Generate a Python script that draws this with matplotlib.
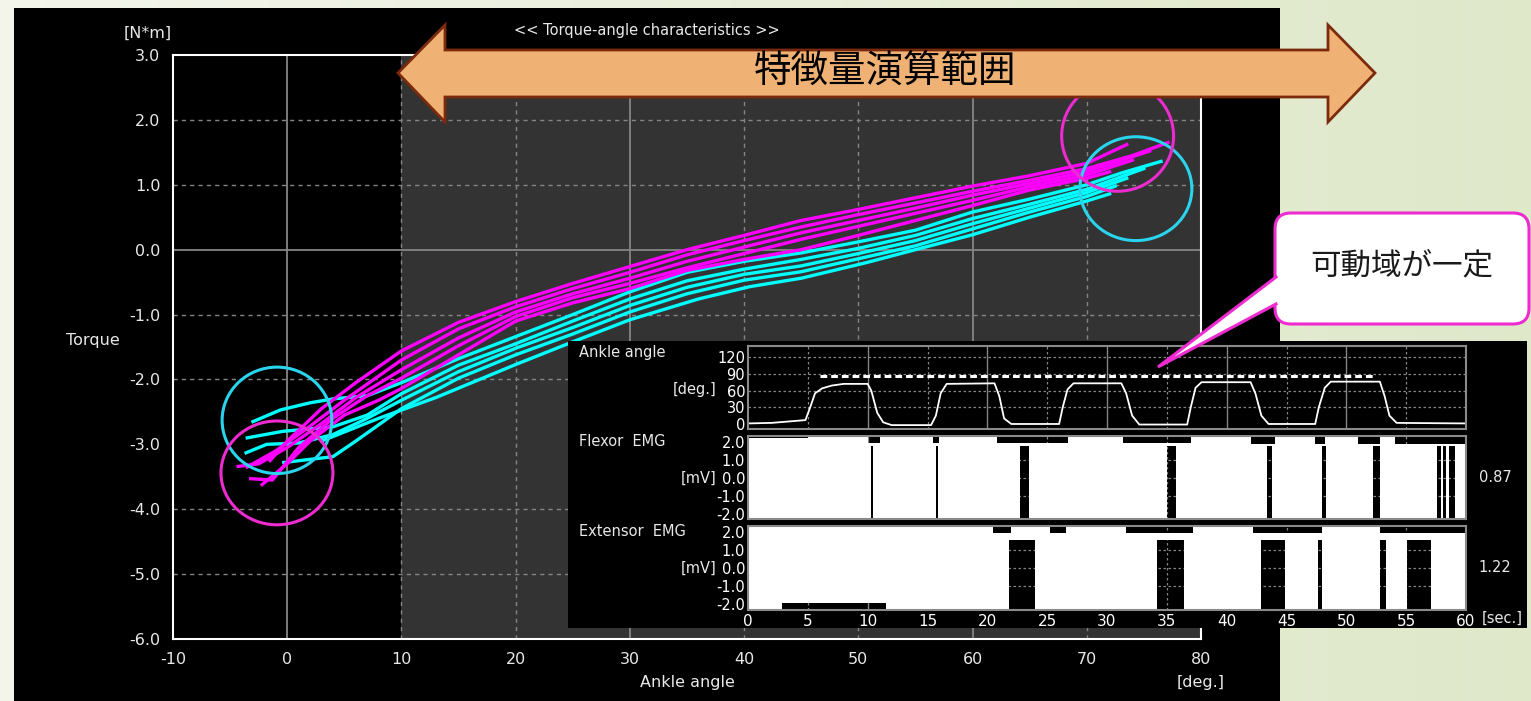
import matplotlib.pyplot as plt
import numpy as np
from matplotlib.patches import Ellipse, Polygon, FancyBboxPatch

W, H = 1531, 701
plt.rcParams['font.family'] = ['DejaVu Sans']
plt.rcParams['axes.unicode_minus'] = False
CJK = ['Noto Sans CJK JP', 'DejaVu Sans']

# torque-angle trials: (ankle angle [deg], torque [N*m])
flexion_trials = [
    [(-1.5, -3.25), (0, -2.95), (3, -2.45), (6, -2.05), (10, -1.56), (15, -1.12), (20, -0.80), (25, -0.52),
     (30, -0.26), (35, 0.0), (40, 0.22), (45, 0.45), (50, 0.62), (55, 0.80), (60, 0.98), (65, 1.14),
     (70, 1.33), (73.5, 1.62)],
    [(-3.5, -3.35), (-1, -3.1), (2, -2.72), (5, -2.32), (10, -1.70), (15, -1.22), (20, -0.88), (25, -0.60),
     (30, -0.35), (35, -0.08), (40, 0.14), (45, 0.35), (50, 0.54), (55, 0.72), (60, 0.90), (65, 1.07),
     (70, 1.25), (74, 1.45), (77.1, 1.65)],
    [(-4.3, -3.34), (-2.5, -3.3), (0, -3.05), (3, -2.68), (6, -2.28), (10, -1.85), (15, -1.36), (20, -0.96),
     (25, -0.68), (30, -0.44), (35, -0.18), (40, 0.04), (45, 0.26), (50, 0.45), (55, 0.64), (60, 0.84),
     (65, 1.02), (70, 1.20), (75.5, 1.52)],
    [(-3.2, -3.53), (-1.3, -3.55), (1, -3.05), (4, -2.6), (7, -2.25), (10, -1.98), (15, -1.48), (20, -1.03),
     (25, -0.74), (30, -0.52), (35, -0.28), (40, -0.06), (45, 0.16), (50, 0.36), (55, 0.56), (60, 0.76),
     (65, 0.97), (70, 1.15), (74, 1.38)],
    [(-2.2, -3.62), (0, -3.3), (2, -2.95), (5, -2.55), (8, -2.32), (10, -2.14), (15, -1.62), (20, -1.10),
     (25, -0.82), (30, -0.60), (35, -0.32), (40, -0.15), (45, 0.0), (50, 0.22), (55, 0.45), (60, 0.68),
     (65, 0.92), (70, 1.10), (72, 1.20)],
]
extension_trials = [
    [(-3.0, -2.65), (-0.6, -2.47), (2, -2.36), (4, -2.30), (7, -2.25), (10, -2.05), (15, -1.68), (20, -1.34),
     (25, -1.0), (30, -0.65), (35, -0.35), (40, -0.18), (45, -0.05), (50, 0.12), (55, 0.30), (60, 0.58),
     (65, 0.78), (70, 1.0), (73, 1.18), (76.5, 1.36)],
    [(-3.5, -2.90), (-0.4, -2.80), (4, -2.73), (7, -2.55), (10, -2.22), (15, -1.78), (20, -1.45), (25, -1.10),
     (30, -0.76), (35, -0.48), (40, -0.30), (45, -0.15), (50, 0.02), (55, 0.22), (60, 0.48), (65, 0.70),
     (70, 0.93), (75, 1.25)],
    [(-3.6, -3.13), (-1.8, -3.00), (1, -2.98), (4, -2.85), (7, -2.6), (10, -2.32), (15, -1.88), (20, -1.52),
     (25, -1.2), (30, -0.86), (35, -0.58), (40, -0.38), (45, -0.25), (50, -0.06), (55, 0.14), (60, 0.40),
     (65, 0.64), (70, 0.88), (73.5, 1.10)],
    [(-0.3, -3.28), (4, -3.19), (6, -2.95), (8, -2.7), (10, -2.45), (15, -1.98), (20, -1.62), (25, -1.30),
     (30, -0.96), (35, -0.68), (40, -0.47), (45, -0.34), (50, -0.14), (55, 0.06), (60, 0.32), (65, 0.58),
     (70, 0.82), (72.5, 0.98)],
    [(3, -2.95), (8, -2.6), (13, -2.28), (20, -1.77), (25, -1.42), (30, -1.08), (36, -0.76), (40.5, -0.57),
     (45, -0.44), (50.7, -0.2), (55, 0.0), (60, 0.23), (65, 0.5), (70, 0.75), (72, 0.86)],
]

# end-range markers: (centre angle, centre torque, half width, half height)
flexion_marks = [(-0.9, -3.44, 4.9, 0.80), (72.7, 1.75, 4.9, 0.85)]
extension_marks = [(-0.9, -2.63, 4.8, 0.82), (74.3, 0.94, 4.9, 0.80)]

feature_range = (10, 80)

# ankle angle over time
angle_t = [0, 2, 4.8, 5.2, 5.6, 6.2, 7, 8, 10, 10.3, 10.8, 11.3, 12, 15.3, 15.7, 16.1, 16.6, 20.6, 21.0,
           21.4, 22, 26.0, 26.3, 26.7, 27.2, 31.2, 31.6, 32.1, 32.7, 36.7, 37.0, 37.4, 37.9, 42.0, 42.4,
           42.9, 43.5, 47.4, 47.7, 48.2, 48.7, 52.8, 53.2, 53.6, 54.2, 60]
angle_deg = [1, 2, 7, 30, 55, 64, 69, 72, 72, 60, 20, 3, -2, -2, 15, 55, 72, 73, 50,
             10, 0, 0, 30, 62, 73, 73, 55, 15, -1, -1, 30, 65, 75, 75, 55,
             15, 0, 0, 30, 65, 76, 76, 50, 15, 2, 1]
rom_level = 86
rom_span = (6.0, 52.2)

# EMG envelopes: (start, end, level) and quiet intervals (start, end)
flexor_top = [(0, 5, 2.2), (10.0, 11.0, 1.94), (15.5, 16.0, 1.94), (20.8, 26.7, 1.94), (31.3, 37.0, 1.92),
              (42.0, 44.0, 1.9), (47.4, 48.2, 1.9), (51.0, 52.8, 1.9), (54.1, 60, 1.9)]
flexor_quiet = [(10.25, 10.45), (15.7, 15.9), (22.7, 23.5), (35.0, 35.8), (43.4, 43.8), (48.0, 48.3),
                (52.2, 52.8), (57.6, 57.9), (58.05, 58.35), (58.55, 59.1)]
flexor_quiet_top = 1.8
extensor_top = [(20.5, 22, 1.95), (25.2, 26.6, 1.95), (31.6, 37.2, 1.95), (42.2, 48.0, 1.95), (52.8, 60, 1.95)]
extensor_floor = [(2.8, 11.5, -1.95)]
extensor_quiet = [(21.8, 24.0), (34.2, 36.4), (42.9, 44.9), (47.6, 48.0), (52.8, 53.3), (55.1, 57.1)]
extensor_quiet_top = 1.55
emg_values = ['0.87', '1.22']

TXT = '#e8e8e8'
GRID = '#858585'


fig = plt.figure(figsize=(W / 100, H / 100), dpi=100)


def px_axes(x0, y0, x1, y1, **kw):
    return fig.add_axes([x0 / W, 1 - y1 / H, (x1 - x0) / W, (y1 - y0) / H], **kw)


def px_text(x, y, s, **kw):
    kw.setdefault('color', TXT)
    kw.setdefault('ha', 'center')
    kw.setdefault('va', 'center')
    fig.text(x / W, 1 - y / H, s, **kw)


# slide background
bg = px_axes(0, 0, W, H)
grad = np.linspace(0, 1, 256)[None, :]
c0, c1 = np.array([0.955, 0.962, 0.925]), np.array([0.875, 0.91, 0.79])
bg.imshow(c0 + (c1 - c0) * grad[..., None], aspect='auto', extent=(0, 1, 0, 1))
bg.axis('off')

panel = px_axes(14, 8, 1280, H)
panel.set_facecolor('black')
panel.set_xticks([])
panel.set_yticks([])
for s in panel.spines.values():
    s.set_visible(False)

# torque-angle plot
ax = px_axes(173, 55, 1201, 639)
ax.set_facecolor('black')
ax.axvspan(*feature_range, color='#333333', lw=0, zorder=0)
for x in [0, 30, 60]:
    ax.axvline(x, color=GRID, lw=1.3, zorder=1)
for x in [10, 20, 40, 50, 70]:
    ax.axvline(x, color=GRID, lw=1, ls=(0, (3, 3)), zorder=1)
ax.axhline(0, color=GRID, lw=1.3, zorder=1)
for y in [2, 1, -1, -2, -4, -5]:
    ax.axhline(y, color=GRID, lw=1, ls=(0, (3, 3)), zorder=1)

for tr in extension_trials:
    a, t = np.array(tr).T
    ax.plot(a, t, color='#00ffff', lw=2.4, zorder=3)
for tr in flexion_trials:
    a, t = np.array(tr).T
    ax.plot(a, t, color='#ff00ff', lw=2.4, zorder=3)
for cx, cy, rx, ry in extension_marks:
    ax.add_patch(Ellipse((cx, cy), 2 * rx, 2 * ry, fill=False, ec='#2ad4ec', lw=2.2, zorder=4, clip_on=False))
for cx, cy, rx, ry in flexion_marks:
    ax.add_patch(Ellipse((cx, cy), 2 * rx, 2 * ry, fill=False, ec='#ee2bd0', lw=2.2, zorder=4, clip_on=False))

ax.set_xlim(-10, 80)
ax.set_ylim(-6, 3)
ax.set_xticks(range(-10, 81, 10))
ax.set_yticks(np.arange(-6, 3.1, 1))
ax.set_yticklabels([f'{v:.1f}' for v in np.arange(-6, 3.1, 1)])
ax.tick_params(colors=TXT, labelsize=11.5, length=0, pad=9)
for s in ax.spines.values():
    s.set_color('white')
    s.set_linewidth(1.5)

px_text(148, 33, '[N*m]', fontsize=11.5)
px_text(93, 341, 'Torque', fontsize=11.5)
px_text(687, 682, 'Ankle angle', fontsize=11.5)
px_text(1201, 683, '[deg.]', fontsize=11.5)
px_text(647, 31, '<< Torque-angle characteristics >>', fontsize=10.5)

# time-series inset
inset = px_axes(568, 341, 1527, 628)
inset.set_facecolor('black')
inset.set_xticks([])
inset.set_yticks([])
for s in inset.spines.values():
    s.set_visible(False)


def time_grid(a, hlines):
    for x in range(10, 60, 10):
        a.axvline(x, color=GRID, lw=1, zorder=1)
    for x in range(5, 60, 10):
        a.axvline(x, color=GRID, lw=0.9, ls=(0, (2, 2)), zorder=1)
    for y in hlines:
        a.axhline(y, color=GRID, lw=0.9, ls=(0, (2, 2)), zorder=1)
    a.set_facecolor('black')
    a.set_xlim(0, 60)
    for s in a.spines.values():
        s.set_color('#8a8a8a')
        s.set_linewidth(1.5)
        s.set_zorder(5)
    a.tick_params(colors='white', labelsize=10.5, length=0, pad=2)


def emg_fill(a, top, quiet, quiet_top, floor=()):
    edges = sorted({0.0, 60.0, *[v for s in top for v in s[:2]], *[v for q in quiet for v in q],
                    *[v for f in floor for v in f[:2]]})
    lo, hi = [], []
    for t0, t1 in zip(edges[:-1], edges[1:]):
        m = 0.5 * (t0 + t1)
        hi.append(next((v for s, e, v in top if s <= m < e), 2.6))
        bot = next((v for s, e, v in floor if s <= m < e), -2.6)
        if any(s <= m < e for s, e in quiet):
            bot = quiet_top
        lo.append(bot)
    lo.append(lo[-1])
    hi.append(hi[-1])
    a.fill_between(edges, lo, hi, step='post', color='white', lw=0, zorder=2)


ax_ang = px_axes(748, 346, 1466, 429)
time_grid(ax_ang, [30, 60, 90, 120])
ax_ang.plot(angle_t, angle_deg, color='white', lw=1.3, zorder=3)
ax_ang.hlines(rom_level, *rom_span, color='white', lw=2.2, ls=(0, (2.2, 1.3)), zorder=3)
ax_ang.set_ylim(-9, 140)
ax_ang.set_yticks([0, 30, 60, 90, 120])
ax_ang.set_xticks([])

ax_flx = px_axes(748, 436, 1466, 519)
time_grid(ax_flx, [-1, 0, 1])
emg_fill(ax_flx, flexor_top, flexor_quiet, flexor_quiet_top)
ax_flx.set_ylim(-2.28, 2.33)
ax_flx.set_xticks([])

ax_ext = px_axes(748, 526, 1466, 610)
time_grid(ax_ext, [-1, 0, 1])
emg_fill(ax_ext, extensor_top, extensor_quiet, extensor_quiet_top, extensor_floor)
ax_ext.set_ylim(-2.33, 2.33)
ax_ext.set_xticks(range(0, 61, 5))
ax_ext.tick_params(axis='x', labelsize=11, pad=3)

for a in (ax_flx, ax_ext):
    a.set_yticks([-2, -1, 0, 1, 2])
    a.set_yticklabels([f'{v:.1f}' for v in [-2, -1, 0, 1, 2]])

px_text(579, 353, 'Ankle angle', fontsize=10.5, ha='left')
px_text(716, 389, '[deg.]', fontsize=10.5, ha='right')
px_text(579, 442, 'Flexor  EMG', fontsize=10.5, ha='left')
px_text(716, 478, '[mV]', fontsize=10.5, ha='right')
px_text(579, 532, 'Extensor  EMG', fontsize=10.5, ha='left')
px_text(716, 568, '[mV]', fontsize=10.5, ha='right')
px_text(1502, 618, '[sec.]', fontsize=10.5)
px_text(1495, 477, emg_values[0], fontsize=10.5)
px_text(1495, 567, emg_values[1], fontsize=10.5)

# annotations on top
ov = px_axes(0, 0, W, H)
ov.set_xlim(0, W)
ov.set_ylim(H, 0)
ov.axis('off')
ov.patch.set_alpha(0)

arrow = [(398, 73), (445, 25), (445, 50), (1328, 50), (1328, 25), (1375, 73), (1328, 122), (1328, 97),
         (445, 97), (445, 122)]
ov.add_patch(Polygon(arrow, closed=True, fc='#f0b274', ec='#7b2a0c', lw=2, joinstyle='miter'))
ov.text(885, 72, '特徴量演算範囲', fontsize=27, color='black', ha='center', va='center', family=CJK)

ov.add_patch(FancyBboxPatch((1275, 213), 254, 111, boxstyle='round,pad=0,rounding_size=16',
                            fc='white', ec='#ee2bd0', lw=2.2))
ov.add_patch(Polygon([(1278, 277), (1158, 367), (1278, 304)], closed=True, fc='white', ec='none'))
ov.plot([1276, 1158, 1276], [277, 367, 304], color='#ee2bd0', lw=2.2, solid_joinstyle='miter')
ov.text(1402, 266, '可動域が一定', fontsize=22, color='#1a1a1a', ha='center', va='center', family=CJK)

fig.savefig('out.png', dpi=100)
